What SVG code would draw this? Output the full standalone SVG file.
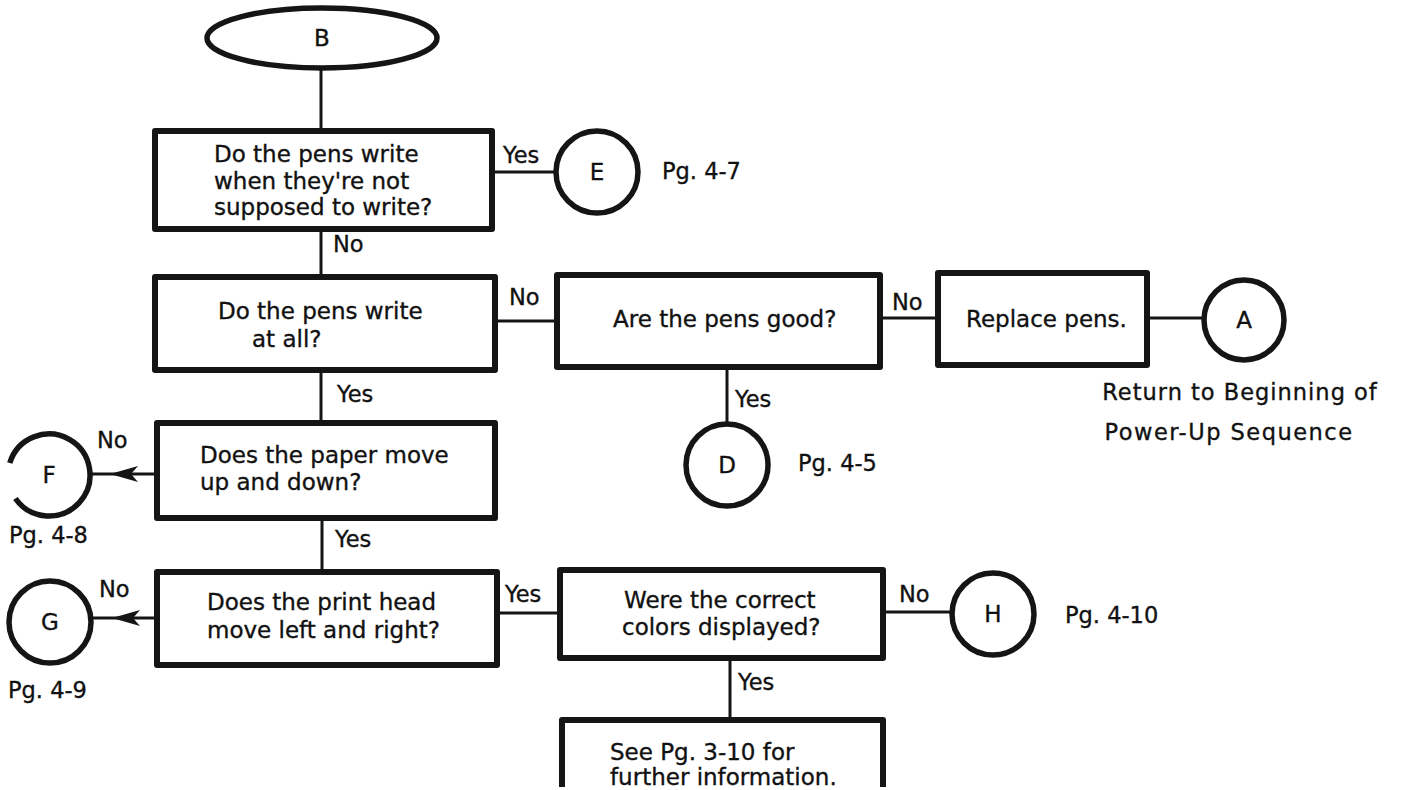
<svg xmlns="http://www.w3.org/2000/svg" width="1403" height="790" viewBox="0 0 1403 790">
<style>
.box{fill:#fff;stroke:#151515;stroke-width:6;stroke-linejoin:round}
.term{fill:#fff;stroke:#151515;stroke-width:5.5}
.ln{fill:none;stroke:#151515;stroke-width:3}
text{font-family:"DejaVu Sans","Liberation Sans",sans-serif;font-size:23px;fill:#111;stroke:#111;stroke-width:0.35}
.c{text-anchor:middle}
.lbl{font-size:22.5px}
</style>
<defs>
<marker id="ah" viewBox="-29 -9 31 18" markerWidth="31" markerHeight="18" refX="0" refY="0" orient="auto" markerUnits="userSpaceOnUse">
<path d="M0,0 L-28,-8 L-21,0 L-28,8 Z" fill="#151515"/>
</marker>
</defs>
<rect width="1403" height="790" fill="#fff"/>

<g id="connectors">
<line class="ln" x1="321" y1="68" x2="321" y2="131"/>
<line class="ln" x1="492" y1="172" x2="557" y2="172"/>
<text class="lbl" x="503" y="163">Yes</text>
<line class="ln" x1="321" y1="229" x2="321" y2="277"/>
<text class="lbl" x="333" y="252">No</text>
<line class="ln" x1="495" y1="321" x2="557" y2="321"/>
<text class="lbl" x="509" y="305">No</text>
<line class="ln" x1="880" y1="318" x2="938" y2="318"/>
<text class="lbl" x="892" y="310">No</text>
<line class="ln" x1="1147" y1="318" x2="1204" y2="318"/>
<line class="ln" x1="727" y1="367" x2="727" y2="424"/>
<text class="lbl" x="735" y="407">Yes</text>
<line class="ln" x1="321" y1="370" x2="321" y2="423"/>
<text class="lbl" x="337" y="402">Yes</text>
<path class="ln" d="M157,474 L110,474 L90,474" marker-mid="url(#ah)"/>
<text class="lbl" x="97" y="448">No</text>
<line class="ln" x1="322" y1="518" x2="322" y2="572"/>
<text class="lbl" x="335" y="547">Yes</text>
<path class="ln" d="M157,618 L112,618 L92,618" marker-mid="url(#ah)"/>
<text class="lbl" x="99" y="597">No</text>
<line class="ln" x1="497" y1="613" x2="560" y2="613"/>
<text class="lbl" x="505" y="602">Yes</text>
<line class="ln" x1="883" y1="612" x2="952" y2="612"/>
<text class="lbl" x="899" y="602">No</text>
<line class="ln" x1="730" y1="658" x2="730" y2="720"/>
<text class="lbl" x="738" y="690">Yes</text>
</g>

<g id="node-B">
<ellipse class="term" cx="322" cy="38" rx="115" ry="30"/>
<text class="c" x="322" y="46">B</text>
</g>

<g id="node-q1">
<rect class="box" x="155" y="131" width="337" height="98"/>
<text x="214" y="162">Do the pens write</text>
<text x="214" y="189">when they're not</text>
<text x="214" y="215">supposed to write?</text>
</g>

<g id="node-E">
<circle class="term" cx="597" cy="172" r="41"/>
<text class="c" x="597" y="180">E</text>
<text class="lbl" x="662" y="179">Pg. 4-7</text>
</g>

<g id="node-q2">
<rect class="box" x="155" y="277" width="340" height="93"/>
<text x="218" y="319">Do the pens write</text>
<text x="252" y="347">at all?</text>
</g>

<g id="node-q3">
<rect class="box" x="557" y="275" width="323" height="92"/>
<text x="613" y="327">Are the pens good?</text>
</g>

<g id="node-replace">
<rect class="box" x="938" y="273" width="209" height="92"/>
<text x="966" y="327">Replace pens.</text>
</g>

<g id="node-A">
<circle class="term" cx="1244" cy="320" r="40"/>
<text class="c" x="1244" y="328">A</text>
<text class="c lbl" x="1240" y="400" style="letter-spacing:1px">Return to Beginning of</text>
<text class="c lbl" x="1229" y="440" style="letter-spacing:1.5px">Power-Up Sequence</text>
</g>

<g id="node-D">
<circle class="term" cx="727" cy="465" r="41"/>
<text class="c" x="727" y="473">D</text>
<text class="lbl" x="798" y="471">Pg. 4-5</text>
</g>

<g id="node-q4">
<rect class="box" x="157" y="423" width="338" height="95"/>
<text x="200" y="463">Does the paper move</text>
<text x="200" y="490">up and down?</text>
</g>

<g id="node-F">
<path class="term" fill="none" d="M9.8,463 A41,41 0 1 1 15.4,498.5"/>
<text class="c" x="49" y="483">F</text>
<text class="lbl" x="9" y="543">Pg. 4-8</text>
</g>

<g id="node-q5">
<rect class="box" x="157" y="572" width="340" height="93"/>
<text x="207" y="610">Does the print head</text>
<text x="207" y="638">move left and right?</text>
</g>

<g id="node-G">
<circle class="term" cx="50" cy="622" r="41"/>
<text class="c" x="50" y="630">G</text>
<text class="lbl" x="8" y="698">Pg. 4-9</text>
</g>

<g id="node-q6">
<rect class="box" x="560" y="570" width="323" height="88"/>
<text x="624" y="608">Were the correct</text>
<text x="622" y="635">colors displayed?</text>
</g>

<g id="node-H">
<circle class="term" cx="993" cy="614" r="41"/>
<text class="c" x="993" y="622">H</text>
<text class="lbl" x="1065" y="623">Pg. 4-10</text>
</g>

<g id="node-info">
<path class="box" d="M562,787 L562,720 L883,720 L883,787"/>
<text x="610" y="760">See Pg. 3-10 for</text>
<text x="610" y="785">further information.</text>
</g>
</svg>
